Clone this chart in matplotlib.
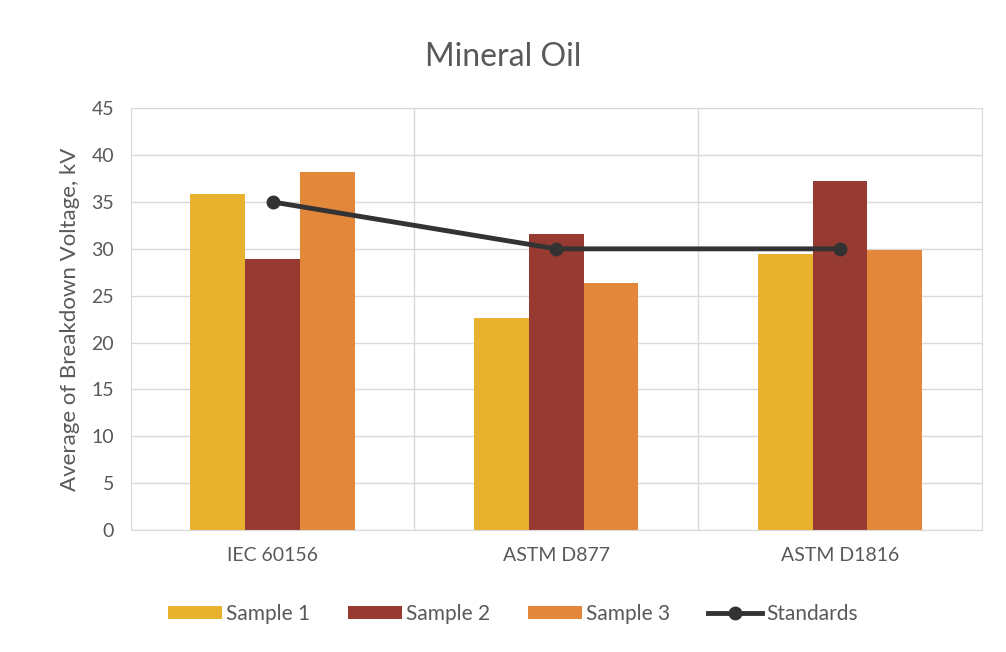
""" Mineral oil breakdown voltage chart.
"""

import numpy as np
import matplotlib.pyplot as plt

categories = ['IEC 60156', 'ASTM D877', 'ASTM D1816']
sample_1 = [35.8, 22.6, 29.4]
sample_2 = [28.9, 31.6, 37.2]
sample_3 = [38.2, 26.4, 29.9]
standards = [35, 30, 30]

plt.rcParams['font.family'] = ['Lato', 'DejaVu Sans']
GREY = '#595959'


def create_graph(filename: str):
    """ I create the graph """
    fig = plt.figure(figsize=(10.06, 6.52), dpi=100)
    ax = fig.add_axes([0.13, 0.187, 0.846, 0.647])

    x = np.arange(len(categories))
    width = 0.193
    b1 = ax.bar(x - width, sample_1, width, color='#E8B12E', label='Sample 1', zorder=2)
    b2 = ax.bar(x, sample_2, width, color='#973A32', label='Sample 2', zorder=2)
    b3 = ax.bar(x + width, sample_3, width, color='#E3883A', label='Sample 3', zorder=2)
    line, = ax.plot(x, standards, color='#333333', linewidth=3.5, marker='o',
                    markersize=9, label='Standards', zorder=3)

    ax.set_xlim(-0.5, 2.5)
    ax.set_ylim(0, 45)
    ax.set_yticks(range(0, 46, 5))
    ax.set_xticks(x)
    ax.set_xticklabels(categories)
    ax.set_xticks([0.5, 1.5], minor=True)
    ax.grid(axis='y', color='#D9D9D9', linewidth=1, zorder=0)
    ax.grid(axis='x', which='minor', color='#D9D9D9', linewidth=1, zorder=0)
    ax.tick_params(axis='both', which='both', length=0, colors=GREY,
                   labelsize=14)
    ax.tick_params(axis='x', pad=12)
    ax.tick_params(axis='y', pad=12)
    for spine in ax.spines.values():
        spine.set_color('#D9D9D9')

    ax.set_ylabel('Average of Breakdown Voltage, kV', fontsize=16, color=GREY,
                  labelpad=8)
    fig.suptitle('Mineral Oil', fontsize=23, color=GREY, y=0.935)

    fig.legend([b1, b2, b3, line], ['Sample 1', 'Sample 2', 'Sample 3', 'Standards'],
               loc='center', bbox_to_anchor=(0.51, 0.058), ncol=4,
               frameon=False, fontsize=15, labelcolor=GREY,
               handlelength=2.6, handleheight=0.6, columnspacing=1.8,
               handletextpad=0.2)

    fig.savefig(filename)


if __name__ == '__main__':
    create_graph('out.png')
